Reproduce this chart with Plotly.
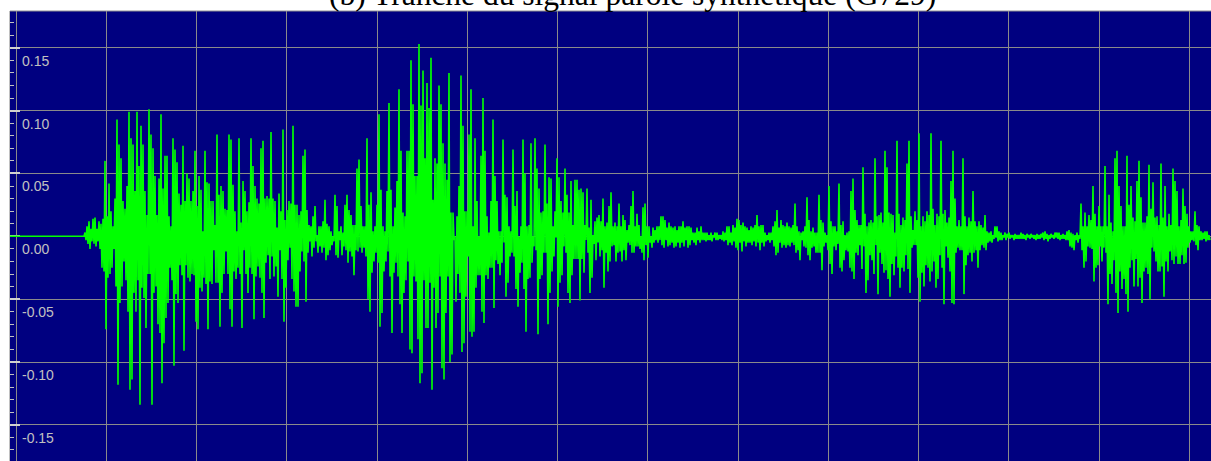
import numpy as np
import plotly.graph_objects as go

TITLE = "(b) Tranche du signal parole synthétique (G729)"
Y_TICKS = [0.15, 0.10, 0.05, 0.00, -0.05, -0.10, -0.15]
Y_TICK_LABELS = ["0.15", "0.10", "0.05", "0.00", "-0.05", "-0.10", "-0.15"]

# samples of silence before the speech begins
LEAD_SILENCE = 75

# positive / negative excursions of the signal (x 1e-3), one pair per sample pair
UP = [
    3, 8, 12, 6, 14, 15, 6, 12, 10, 14,
    60, 16, 42, 20, 8, 30, 93, 73, 62, 28,
    22, 40, 99, 78, 73, 36, 99, 56, 88, 73,
    36, 17, 101, 81, 70, 48, 17, 46, 97, 38,
    64, 64, 16, 8, 78, 69, 59, 34, 25, 72,
    28, 50, 46, 28, 36, 68, 24, 48, 37, 4,
    68, 43, 42, 28, 28, 9, 81, 33, 40, 36,
    22, 21, 81, 77, 41, 20, 4, 78, 11, 44,
    36, 20, 27, 78, 56, 40, 30, 26, 70, 76,
    30, 32, 30, 83, 30, 28, 7, 34, 20, 85,
    13, 21, 28, 26, 88, 25, 25, 17, 20, 64,
    69, 21, 9, 8, 16, 24, 1, 8, 8, 12,
    29, 10, 8, 4, 0, 33, 24, 4, 8, 3,
    25, 33, 21, 17, 9, 9, 54, 61, 24, 8,
    8, 78, 25, 35, 4, 8, 25, 97, 37, 8,
    4, 36, 106, 37, 8, 23, 44, 117, 68, 19,
    16, 68, 68, 140, 105, 48, 48, 153, 104, 132,
    62, 122, 102, 142, 29, 62, 58, 120, 105, 74,
    58, 45, 130, 19, 19, 0, 16, 40, 128, 88,
    20, 20, 81, 117, 8, 78, 28, 0, 64, 110,
    68, 16, 3, 28, 93, 48, 28, 4, 4, 77,
    33, 31, 8, 4, 69, 24, 36, 0, 8, 77,
    50, 8, 9, 74, 0, 78, 54, 38, 19, 20,
    73, 26, 47, 46, 8, 20, 62, 47, 28, 19,
    54, 33, 19, 44, 9, 45, 45, 37, 38, 35,
    9, 38, 7, 29, 1, 12, 15, 17, 12, 30,
    8, 11, 24, 35, 8, 11, 8, 26, 8, 17,
    13, 5, 9, 24, 36, 8, 18, 9, 0, 23,
    26, 8, 8, 0, 7, 5, 8, 8, 16, 16,
    13, 7, 11, 8, 7, 8, 5, 8, 8, 12,
    7, 8, 8, 7, 3, 3, 7, 4, 8, 3,
    3, 3, 1, 3, 1, 3, 3, 1, 1, 4,
    3, 8, 8, 3, 9, 7, 14, 13, 9, 11,
    8, 7, 5, 8, 7, 9, 17, 8, 9, 9,
    3, 1, 3, 3, 8, 12, 21, 7, 13, 9,
    8, 11, 8, 7, 9, 26, 8, 4, 3, 4,
    8, 31, 13, 4, 7, 3, 3, 33, 13, 11,
    3, 1, 40, 12, 8, 8, 4, 42, 9, 12,
    1, 3, 4, 36, 46, 21, 13, 9, 9, 55,
    18, 8, 11, 13, 11, 62, 16, 17, 19, 11,
    68, 55, 19, 18, 17, 3, 76, 18, 9, 15,
    13, 58, 76, 16, 5, 20, 13, 82, 8, 16,
    12, 20, 17, 82, 22, 9, 18, 16, 76, 18,
    21, 11, 15, 44, 68, 30, 8, 13, 8, 62,
    16, 8, 15, 12, 36, 12, 8, 12, 9, 7,
    17, 4, 3, 4, 1, 8, 8, 4, 3, 1,
    3, 2, 3, 1, 1, 2, 1, 1, 3, 2,
    1, 2, 1, 2, 1, 1, 2, 1, 2, 3,
    4, 2, 1, 2, 1, 3, 3, 3, 1, 2,
    1, 4, 5, 3, 2, 1, 3, 1, 26, 8,
    19, 8, 17, 13, 40, 18, 8, 24, 8, 8,
    56, 8, 33, 11, 4, 62, 68, 40, 24, 8,
    8, 64, 25, 40, 15, 12, 44, 60, 31, 11,
    11, 16, 57, 22, 43, 15, 16, 9, 58, 15,
    40, 8, 18, 9, 54, 44, 36, 8, 13, 38,
    24, 18, 8, 4, 4, 20, 9, 8, 4, 3,
    4, 4, 1,
]

DN = [
    -3, -6, -10, -4, -6, -8, -4, -10, -25, -28,
    -74, -33, -30, -25, -10, -40, -118, -53, -40, -20,
    -35, -60, -122, -114, -45, -60, -35, -134, -41, -49,
    -73, -30, -30, -134, -45, -40, -70, -77, -117, -85,
    -65, -53, -25, -35, -103, -46, -53, -23, -31, -91,
    -23, -33, -36, -30, -31, -68, -74, -41, -44, -33,
    -38, -74, -36, -38, -11, -37, -37, -72, -45, -30,
    -12, -30, -58, -72, -28, -34, -25, -30, -73, -11,
    -30, -45, -25, -30, -66, -32, -24, -33, -45, -65,
    -21, -15, -34, -16, -32, -24, -48, -11, -34, -68,
    -41, -19, -9, -34, -44, -56, -56, -28, -12, -20,
    -52, -13, -4, -16, -9, -4, -13, -8, -13, -9,
    -19, -15, -11, -7, -4, -15, -17, -3, -15, -8,
    -11, -21, -12, -16, -31, -11, -12, -9, -13, -9,
    -16, -50, -60, -29, -20, -13, -21, -72, -61, -28,
    -20, -12, -32, -77, -29, -21, -32, -54, -77, -45,
    -35, -20, -90, -93, -32, -36, -82, -117, -109, -35,
    -73, -73, -37, -122, -41, -73, -61, -32, -105, -114,
    -61, -32, -100, -94, -3, -52, -30, -45, -92, -85,
    -48, -16, -76, -80, -76, -41, -31, -31, -60, -69,
    -31, -34, -25, -25, -57, -19, -22, -31, -21, -5,
    -48, -37, -16, -13, -16, -42, -56, -29, -21, -42,
    -76, -34, -33, -21, -8, -11, -78, -34, -31, -13,
    -13, -70, -45, -28, -16, -1, -56, -37, -31, -8,
    -13, -45, -53, -31, -18, -18, -18, -51, -18, -29,
    -3, -13, -45, -33, -6, -19, -5, -16, -11, -41,
    -13, -28, -20, -8, -7, -20, -13, -12, -20, -11,
    -19, -5, -7, -13, -13, -8, -8, -10, -13, -19,
    -7, -17, -5, -9, -5, -3, -5, -3, -7, -9,
    -3, -8, -7, -5, -9, -8, -5, -9, -5, -8,
    -3, -9, -7, -3, -5, -7, -3, -5, -3, -3,
    -4, -3, -3, -4, -1, -3, -3, -2, -3, -4,
    -3, -7, -5, -7, -4, -9, -11, -5, -12, -4,
    -8, -5, -5, -7, -4, -8, -5, -11, -5, -8,
    -4, -3, -5, -3, -8, -15, -13, -5, -9, -7,
    -9, -7, -8, -5, -7, -13, -11, -19, -3, -8,
    -9, -15, -19, -9, -8, -13, -13, -13, -27, -8,
    -5, -11, -22, -30, -8, -11, -6, -25, -28, -19,
    -11, -12, -25, -28, -34, -13, -15, -7, -26, -8,
    -45, -35, -15, -19, -30, -7, -46, -13, -22, -29,
    -27, -34, -48, -22, -31, -16, -25, -41, -25, -28,
    -15, -26, -45, -9, -7, -7, -33, -52, -29, -40,
    -23, -25, -36, -28, -20, -41, -34, -15, -25, -54,
    -8, -17, -28, -53, -54, -13, -9, -11, -11, -46,
    -23, -15, -13, -20, -13, -11, -25, -11, -7, -9,
    -11, -5, -4, -5, -2, -1, -4, -3, -3, -1,
    -3, -1, -2, -1, -3, -2, -2, -2, -2, -2,
    -3, -1, -2, -1, -2, -3, -2, -2, -1, -3,
    -2, -4, -2, -1, -2, -1, -2, -3, -2, -2,
    -3, -3, -8, -9, -11, -3, -5, -2, -11, -25,
    -20, -8, -9, -10, -36, -25, -23, -8, -20, -9,
    -13, -54, -30, -38, -19, -45, -61, -28, -42, -34,
    -46, -60, -25, -19, -40, -18, -40, -33, -53, -28,
    -25, -30, -50, -9, -12, -20, -28, -28, -24, -48,
    -20, -28, -12, -19, -22, -16, -22, -22, -15, -22,
    -21, -9, -5, -3, -4, -7, -11, -3, -3, -2,
    -4, -3, -3,
]

# build the sample sequence
samples = [0.0] * LEAD_SILENCE
for u, d in zip(UP, DN):
    samples.append(u / 1000.0)
    samples.append(d / 1000.0)
x = np.arange(len(samples))

fig = go.Figure(
    go.Scatter(
        x=x, y=samples, mode="lines",
        line=dict(color="#00ff00", width=1.6, simplify=False),
        hoverinfo="skip",
    )
)

fig.update_layout(
    width=1211, height=461,
    margin=dict(l=10, r=0, t=11, b=0),
    paper_bgcolor="white",
    plot_bgcolor="#000080",
    showlegend=False,
)

fig.update_xaxes(
    range=[0, 1201], tick0=6, dtick=90.27,
    showgrid=True, gridcolor="#8a8a8a", gridwidth=1,
    showticklabels=False, ticks="", zeroline=False, showline=False,
)

fig.update_yaxes(
    range=[-0.17876, 0.17924], tick0=0, dtick=0.05,
    showgrid=True, gridcolor="#8a8a8a", gridwidth=1,
    showticklabels=False,
    ticks="inside", ticklen=10, tickcolor="#d0d0d0", tickwidth=2,
    minor=dict(dtick=0.01, ticks="inside", ticklen=4, tickcolor="#c0c0c0",
               tickwidth=1, showgrid=False),
    zeroline=False, showline=True, linecolor="#c0c0c0", linewidth=1,
    layer="below traces",
)

# top border of the plotting frame
fig.add_shape(type="line", xref="paper", yref="paper", x0=0, x1=1, y0=1, y1=1,
              line=dict(color="#909090", width=1))

# tick labels drawn inside the frame
for val, lab in zip(Y_TICKS, Y_TICK_LABELS):
    fig.add_annotation(
        x=0, xref="paper", xanchor="left", xshift=10,
        y=val, yref="y", yanchor="top", yshift=-3,
        text=lab, showarrow=False,
        font=dict(family="Liberation Sans, Arial, sans-serif", size=14, color="#c0c0c0"),
    )

# title, partly cut off by the top of the page (as in the reference)
fig.add_annotation(
    x=(632 - 10) / 1201, xref="paper", xanchor="center",
    y=1, yref="paper", yanchor="bottom", yshift=-3,
    text=TITLE, showarrow=False,
    font=dict(family="Liberation Serif, Times New Roman, serif", size=31.5, color="black"),
)

fig.write_html("out.html", config={"displayModeBar": False})
